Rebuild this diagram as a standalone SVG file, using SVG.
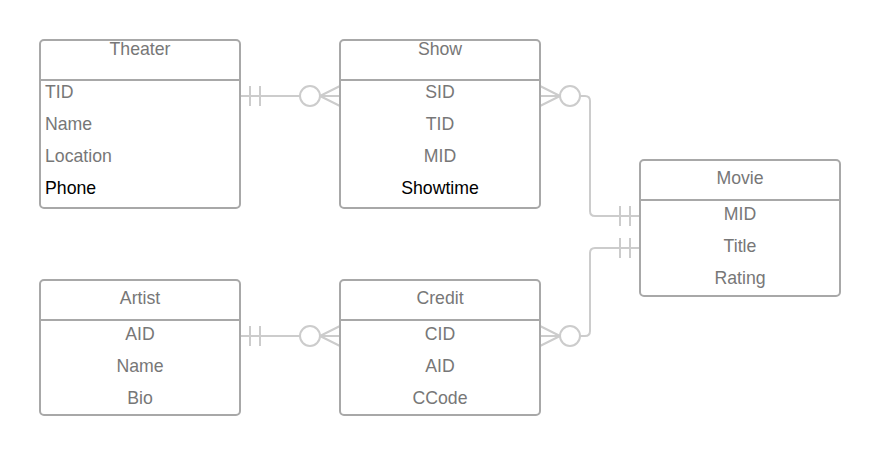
<svg xmlns="http://www.w3.org/2000/svg" width="880" height="456" viewBox="0 0 880 456">
<style>
.box{fill:#fff;stroke:#a8a8a8;stroke-width:2}
.sep{stroke:#a8a8a8;stroke-width:2}
text{font-family:"Liberation Sans",Arial,sans-serif;font-size:17.7px;fill:#777}
.c{text-anchor:middle}
.k{fill:#000}
.ln{fill:none;stroke:#cccccc;stroke-width:2}
.ci{fill:#fff;stroke:#cccccc;stroke-width:2}
</style>
<rect width="880" height="456" fill="#fff"/>
<g id="connectors">
  <!-- Theater - Show -->
  <path class="ln" d="M240 96H300"/>
  <path class="ln" d="M250 86V106M260 86V106"/>
  <circle class="ci" cx="310" cy="96" r="10"/>
  <path class="ln" d="M320 96H340M320 96L340 86M320 96L340 106"/>
  <!-- Artist - Credit -->
  <path class="ln" d="M240 336H300"/>
  <path class="ln" d="M250 326V346M260 326V346"/>
  <circle class="ci" cx="310" cy="336" r="10"/>
  <path class="ln" d="M320 336H340M320 336L340 326M320 336L340 346"/>
  <!-- Show - Movie -->
  <path class="ln" d="M540 96H560M560 96L540 86M560 96L540 106"/>
  <circle class="ci" cx="570" cy="96" r="10"/>
  <path class="ln" d="M580 96H585Q590 96 590 101V211Q590 216 595 216H640"/>
  <path class="ln" d="M620 206V226M630 206V226"/>
  <!-- Credit - Movie -->
  <path class="ln" d="M540 336H560M560 336L540 326M560 336L540 346"/>
  <circle class="ci" cx="570" cy="336" r="10"/>
  <path class="ln" d="M580 336H585Q590 336 590 331V253Q590 248 595 248H640"/>
  <path class="ln" d="M620 238V258M630 238V258"/>
</g>
<g id="theater">
  <rect class="box" x="40" y="40" width="200" height="168" rx="4"/>
  <line class="sep" x1="40" y1="80" x2="240" y2="80"/>
  <text class="c" x="140" y="54.5">Theater</text>
  <text x="45" y="97.5">TID</text>
  <text x="45" y="129.5">Name</text>
  <text x="45" y="161.5">Location</text>
  <text class="k" x="45" y="193.5">Phone</text>
</g>
<g id="show">
  <rect class="box" x="340" y="40" width="200" height="168" rx="4"/>
  <line class="sep" x1="340" y1="80" x2="540" y2="80"/>
  <text class="c" x="440" y="54.5">Show</text>
  <text class="c" x="440" y="97.5">SID</text>
  <text class="c" x="440" y="129.5">TID</text>
  <text class="c" x="440" y="161.5">MID</text>
  <text class="c k" x="440" y="193.5">Showtime</text>
</g>
<g id="movie">
  <rect class="box" x="640" y="160" width="200" height="136" rx="4"/>
  <line class="sep" x1="640" y1="200" x2="840" y2="200"/>
  <text class="c" x="740" y="183.5">Movie</text>
  <text class="c" x="740" y="219.5">MID</text>
  <text class="c" x="740" y="251.5">Title</text>
  <text class="c" x="740" y="283.5">Rating</text>
</g>
<g id="artist">
  <rect class="box" x="40" y="280" width="200" height="135" rx="4"/>
  <line class="sep" x1="40" y1="320" x2="240" y2="320"/>
  <text class="c" x="140" y="303.5">Artist</text>
  <text class="c" x="140" y="339.5">AID</text>
  <text class="c" x="140" y="371.5">Name</text>
  <text class="c" x="140" y="403.5">Bio</text>
</g>
<g id="credit">
  <rect class="box" x="340" y="280" width="200" height="135" rx="4"/>
  <line class="sep" x1="340" y1="320" x2="540" y2="320"/>
  <text class="c" x="440" y="303.5">Credit</text>
  <text class="c" x="440" y="339.5">CID</text>
  <text class="c" x="440" y="371.5">AID</text>
  <text class="c" x="440" y="403.5">CCode</text>
</g>
</svg>
